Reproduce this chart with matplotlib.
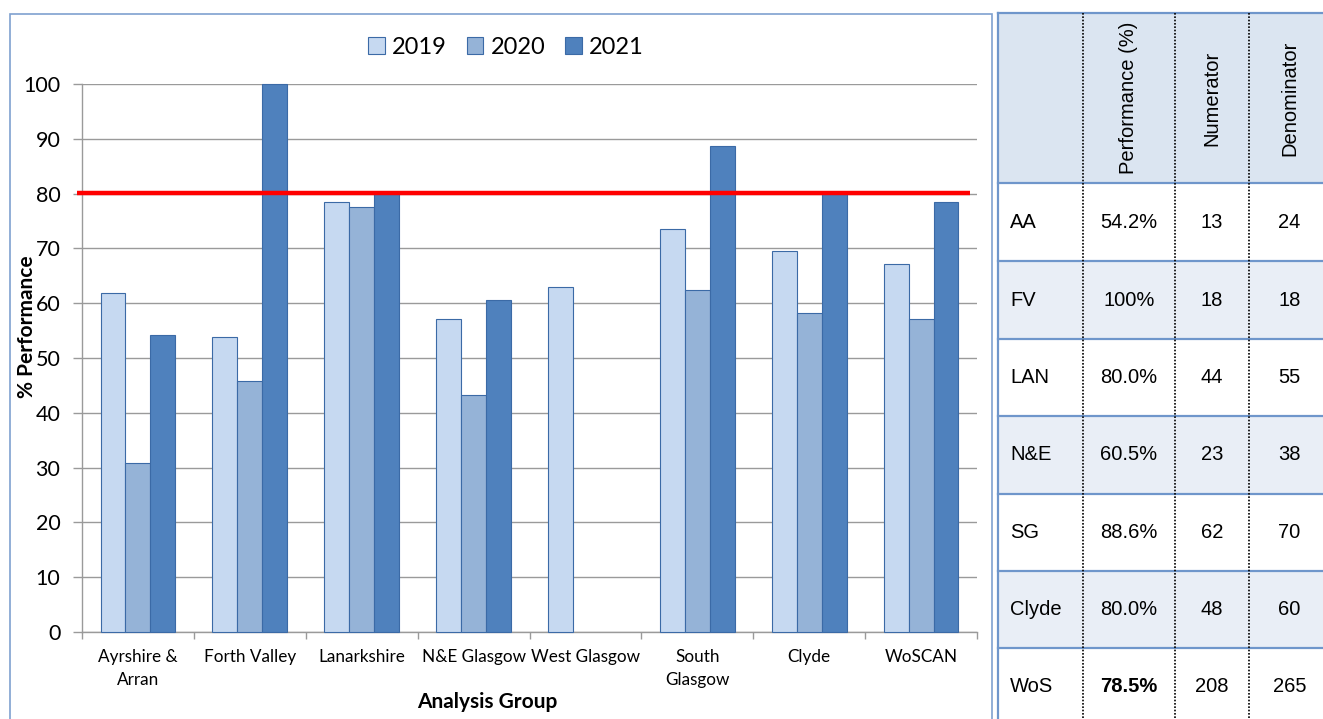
import matplotlib
matplotlib.use("Agg")
import matplotlib.pyplot as plt
from matplotlib.patches import Rectangle
from matplotlib.lines import Line2D
import matplotlib.transforms as mtransforms
import numpy as np

W, H = 1323, 719

# ---- chart data ----
groups = ["Ayrshire &\nArran", "Forth Valley", "Lanarkshire", "N&E Glasgow",
          "West Glasgow", "South\nGlasgow", "Clyde", "WoSCAN"]
years = ["2019", "2020", "2021"]
perf_2019 = [61.9, 53.8, 78.4, 57.1, 63.0, 73.5, 69.6, 67.1]
perf_2020 = [30.8, 45.8, 77.6, 43.3, np.nan, 62.5, 58.3, 57.2]
perf_2021 = [54.2, 100.0, 80.0, 60.5, np.nan, 88.6, 80.0, 78.5]
target = 80.2
yticks = [0, 10, 20, 30, 40, 50, 60, 70, 80, 90, 100]

# ---- table data ----
table_cols = ["Performance (%)", "Numerator", "Denominator"]
table_rows = ["AA", "FV", "LAN", "N&E", "SG", "Clyde", "WoS"]
table_perf = ["54.2%", "100%", "80.0%", "60.5%", "88.6%", "80.0%", "78.5%"]
table_num = ["13", "18", "44", "23", "62", "48", "208"]
table_den = ["24", "18", "55", "38", "70", "60", "265"]

bar_colors = ["#c6d9f1", "#95b3d7", "#4f81bd"]
edge_color = "#3b6aa6"
chart_font = "Lato"
table_font = "Liberation Sans"


def fx(x):
    return x / W


def fy(y):
    return 1 - y / H


fig = plt.figure(figsize=(W / 100, H / 100), dpi=100)

# chart frame
fig.patches.append(Rectangle((fx(10), fy(730)), fx(992) - fx(10), fy(14) - fy(730),
                             transform=fig.transFigure, fill=False,
                             edgecolor="#7fa1cf", lw=1.2))

ax = fig.add_axes([fx(82), fy(632), fx(977) - fx(82), fy(84) - fy(632)])
x = np.arange(len(groups))
bw = 0.223
for i, (vals, col, yr) in enumerate(zip([perf_2019, perf_2020, perf_2021], bar_colors, years)):
    ax.bar(x + (i - 1) * bw, vals, width=bw, color=col, edgecolor=edge_color,
           linewidth=0.8, label=yr, zorder=3, clip_on=False)

ax.set_xlim(-0.5, len(groups) - 0.5)
ax.set_ylim(0, 100)
ax.set_yticks(yticks)
ax.set_yticklabels([str(v) for v in yticks], fontsize=15.5, family=chart_font)
ax.yaxis.grid(True, color="#9a9a9a", lw=1, zorder=0)
ax.set_axisbelow(True)
ax.set_xticks(x)
ax.set_xticklabels(groups, fontsize=12.3, family=chart_font, linespacing=1.55)
ax.set_xticks(np.arange(-0.5, len(groups)), minor=True)
ax.tick_params(axis="x", which="major", length=0, pad=12)
ax.tick_params(axis="x", which="minor", length=5, color="#9a9a9a", width=1)
ax.tick_params(axis="y", length=6.5, color="#9a9a9a", width=1, pad=9)
for s in ["top", "right"]:
    ax.spines[s].set_visible(False)
for s in ["left", "bottom"]:
    ax.spines[s].set_color("#9a9a9a")
    ax.spines[s].set_linewidth(1)

# target line
trans = mtransforms.blended_transform_factory(ax.transAxes, ax.transData)
ax.plot([-0.006, 0.992], [target, target], color="#ff0000", lw=3.2,
        transform=trans, clip_on=False, zorder=5, solid_capstyle="butt")

leg = ax.legend(loc="center", bbox_to_anchor=(fx(506), fy(47)),
                bbox_transform=fig.transFigure, ncol=3, frameon=False,
                prop={"family": chart_font, "size": 17},
                handlelength=0.7, handleheight=0.7, handletextpad=0.3,
                columnspacing=0.85)

fig.text(fx(27), fy(327), "% Performance", rotation=90, ha="center", va="center",
         fontsize=15, fontweight="bold", family=chart_font)
fig.text(fx(487), fy(702), "Analysis Group", ha="center", va="center",
         fontsize=15, fontweight="bold", family=chart_font)

# ---- side table ----
col_x = [998, 1083, 1175, 1249, 1330]
row_y = [13, 183, 261, 339, 416, 494, 571, 648, 726]
fills = ["#dbe5f1", "#ffffff", "#e9eef6", "#ffffff", "#e9eef6", "#ffffff", "#e9eef6", "#ffffff"]
for i, fc in enumerate(fills):
    fig.patches.append(Rectangle((fx(col_x[0]), fy(row_y[i + 1])),
                                 fx(col_x[-1]) - fx(col_x[0]),
                                 fy(row_y[i]) - fy(row_y[i + 1]),
                                 transform=fig.transFigure, facecolor=fc,
                                 edgecolor="none", zorder=0))
for yy in row_y:
    fig.lines.append(Line2D([fx(col_x[0]), fx(col_x[-1])], [fy(yy), fy(yy)],
                            transform=fig.transFigure, color="#6f96cb", lw=1.6))
fig.lines.append(Line2D([fx(col_x[0]), fx(col_x[0])], [fy(row_y[0]), fy(row_y[-1])],
                        transform=fig.transFigure, color="#6f96cb", lw=1.6))
for xx in col_x[1:4]:
    fig.lines.append(Line2D([fx(xx), fx(xx)], [fy(row_y[0]), fy(row_y[-1])],
                            transform=fig.transFigure, color="#000000", lw=1.2,
                            linestyle=(0, (1, 1))))

hdr_mid = (row_y[0] + row_y[1]) / 2
for j, name in enumerate(table_cols):
    cx = (col_x[j + 1] + col_x[j + 2]) / 2
    fig.text(fx(cx), fy(hdr_mid), name, rotation=90, ha="center", va="center",
             fontsize=14.5, family=table_font)

for i, r in enumerate(table_rows):
    cy = (row_y[i + 1] + row_y[i + 2]) / 2
    fig.text(fx(1010), fy(cy), r, ha="left", va="center", fontsize=14.5, family=table_font)
    cells = [table_perf[i], table_num[i], table_den[i]]
    for j, val in enumerate(cells):
        cx = (col_x[j + 1] + col_x[j + 2]) / 2
        weight = "bold" if (r == "WoS" and j == 0) else "normal"
        fig.text(fx(cx), fy(cy), val, ha="center", va="center", fontsize=14.5,
                 family=table_font, fontweight=weight)

fig.savefig("out.png", dpi=100)
